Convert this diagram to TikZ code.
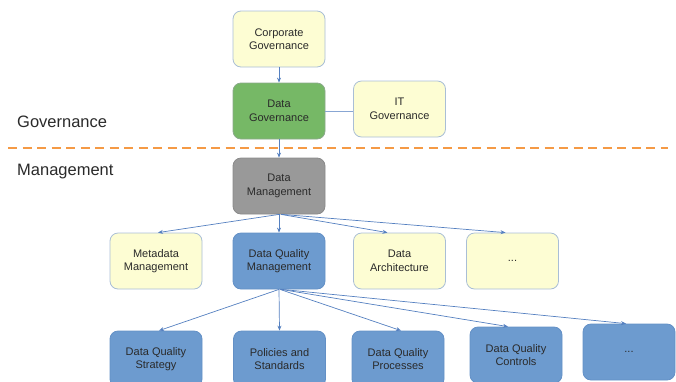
\documentclass[tikz,border=0pt]{standalone}
\usepackage{fontspec}
\setmainfont{Liberation Sans}
\usetikzlibrary{arrows.meta}
\definecolor{paleyellow}{HTML}{FDFDD3}
\definecolor{paleedge}{HTML}{A9BED6}
\definecolor{govgreen}{HTML}{76B866}
\definecolor{govedge}{HTML}{8AA98A}
\definecolor{mgmtgray}{HTML}{999999}
\definecolor{mgmtedge}{HTML}{8A8A8A}
\definecolor{dqblue}{HTML}{6D9BCF}
\definecolor{dqedge}{HTML}{6390C6}
\definecolor{linkblue}{HTML}{5580C0}
\definecolor{splitorange}{HTML}{F59A45}
\definecolor{ink}{HTML}{2A2A2A}
\tikzset{
  card/.style={rounded corners=8pt, minimum width=92pt, minimum height=56pt,
    align=center, font=\fontsize{11}{13.5}\selectfont, text=ink, line width=0.8pt, inner sep=2pt},
  yellowcard/.style={card, fill=paleyellow, draw=paleedge},
  greencard/.style={card, fill=govgreen, draw=govedge},
  graycard/.style={card, fill=mgmtgray, draw=mgmtedge},
  bluecard/.style={card, fill=dqblue, draw=dqedge},
  link/.style={draw=linkblue, line width=0.7pt, -{Stealth[length=5pt,width=4pt]}},
  plainlink/.style={draw=linkblue!70, line width=0.7pt},
  divider/.style={draw=splitorange, line width=2pt, dash pattern=on 9pt off 5.5pt},
  section/.style={font=\fontsize{16.5}{19}\selectfont, text=ink, anchor=west, inner sep=0pt}
}
\begin{document}
\begin{tikzpicture}[x=1pt, y=-1pt]
\useasboundingbox (0,0) rectangle (676,381);

% governance layer
\node[yellowcard] (corp) at (279,39) {Corporate\\Governance};
\node[greencard] (dgov) at (279,111) {Data\\Governance};
\node[yellowcard] (itgov) at (399.5,109) {IT\\Governance};

% section labels and divider
\node[section] (govlabel) at (17,122) {Governance};
\node[section] (mgmtlabel) at (17,172) {Management};
\coordinate (splitL) at (8,147.5);
\coordinate (splitR) at (668,147.5);
\path[divider] (splitL) -- (splitR);

% management layer
\node[graycard] (dmgmt) at (279,186) {Data\\Management};
\node[yellowcard] (meta) at (156,261) {Metadata\\Management};
\node[bluecard] (dqm) at (279,261) {Data Quality\\Management};
\node[yellowcard] (darch) at (399.5,261) {Data\\Architecture};
\node[yellowcard] (more1) at (512.5,261) {...};

% data quality components
\node[bluecard] (strat) at (156,359) {Data Quality\\Strategy};
\node[bluecard] (pol) at (279.5,359) {Policies and\\Standards};
\node[bluecard] (proc) at (398,359) {Data Quality\\Processes};
\node[bluecard] (ctrl) at (516,355) {Data Quality\\Controls};
\node[bluecard] (more2) at (629,352) {...};

% connectors
\path[link] (corp) -- (dgov);
\path[plainlink] (dgov.east) -- (itgov.west |- dgov.east);
\path[link] (dgov) -- (dmgmt);

\path[link] (dmgmt.south) -- ([xshift=2pt]meta.north);
\path[link] (dmgmt.south) -- (dqm.north);
\path[link] ([xshift=2pt]dmgmt.south) -- ([xshift=-12pt]darch.north);
\path[link] ([xshift=3pt]dmgmt.south) -- ([xshift=-7pt]more1.north);

\path[link] (dqm.south) -- ([xshift=3pt]strat.north);
\path[link] (dqm.south) -- (pol.north);
\path[link] ([xshift=1pt]dqm.south) -- ([xshift=3pt]proc.north);
\path[link] ([xshift=2pt]dqm.south) -- ([xshift=-8pt]ctrl.north);
\path[link] ([xshift=3pt]dqm.south) -- ([xshift=-3pt]more2.north);
\end{tikzpicture}
\end{document}
